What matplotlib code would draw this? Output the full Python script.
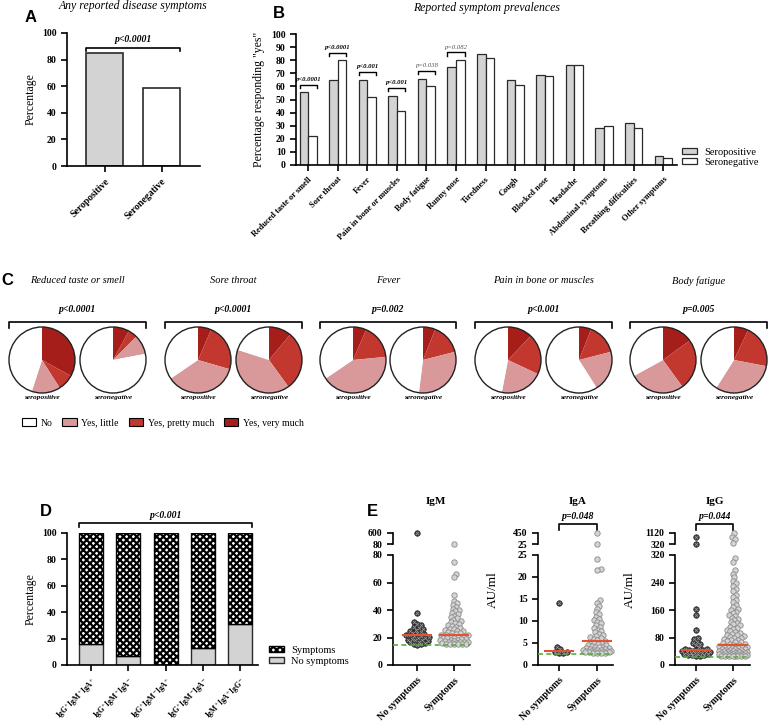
import matplotlib
matplotlib.use("Agg")
import matplotlib.pyplot as plt
import numpy as np
from matplotlib.patches import Patch, Circle

plt.rcParams['font.family'] = ['Liberation Serif', 'DejaVu Serif']
plt.rcParams['mathtext.fontset'] = 'stix'
plt.rcParams['hatch.linewidth'] = 1.6

# ---------------- data ----------------
any_groups = ["Seropositive", "Seronegative"]
any_vals = [85, 59]

symptoms = ["Reduced taste or smell", "Sore throat", "Fever", "Pain in bone or muscles",
            "Body fatigue", "Runny nose", "Tiredness", "Cough", "Blocked nose", "Headache",
            "Abdominal symptoms", "Breathing difficulties", "Other symptoms"]
sero_pos = [56, 65, 65, 53, 66, 75, 85, 65, 69, 76, 28, 32, 7]
sero_neg = [22, 80, 52, 41, 60, 80, 82, 61, 68, 76, 30, 28, 5]
b_pvals = ["p<0.0001", "p<0.0001", "p<0.001", "p<0.001", "p=0.038", "p=0.082"]
b_bracket = [61, 85.5, 71, 59, 72, 86]

pie_titles = ["Reduced taste or smell", "Sore throat", "Fever", "Pain in bone or muscles", "Body fatigue"]
pie_pvals = ["p<0.0001", "p<0.0001", "p=0.002", "p<0.001", "p=0.005"]
# order: pos/neg for each symptom
pie_very = [33, 8, 6.5, 11, 6.5, 6, 12, 6, 15, 7]
pie_pretty = [8, 4.5, 23, 29, 17, 15, 20, 15, 25, 21]
pie_little = [14, 9.5, 36, 40, 42, 31, 21, 20, 27, 31]
pie_no = [45, 78, 34.5, 20, 34.5, 48, 47, 59, 33, 41]
pie_levels = ["No", "Yes, little", "Yes, pretty much", "Yes, very much"]

ab_groups = [r"IgG$^{+}$IgM$^{+}$IgA$^{+}$", r"IgG$^{+}$IgM$^{+}$IgA$^{-}$",
             r"IgG$^{+}$IgM$^{-}$IgA$^{+}$", r"IgG$^{+}$IgM$^{-}$IgA$^{-}$",
             r"IgM$^{+}$IgA$^{+}$IgG$^{-}$"]
no_sympt_pct = [16, 7, 0, 13, 31]
sympt_pct = [84, 93, 100, 87, 69]

igm_no = [600, 38, 31, 29.5, 29, 28, 27, 26, 25.5, 25, 24, 23.5, 23, 22.5, 22, 21.5, 21, 21,
          20.5, 20, 19.5, 19, 18.5, 18, 18, 17.5, 17, 16.5, 16, 15.5, 15, 14.5]
igm_sym = [85, 75, 66.5, 64, 51, 46.5, 45, 44, 42.5, 41, 40, 39, 38, 37, 36, 35, 34, 33, 32, 31,
           30.5, 30, 29, 28.5, 28, 27, 26.5, 26, 25.5, 25, 24.5, 24, 23.5, 23, 22.5, 22, 22, 21.5,
           21, 21, 20.5, 20, 20, 19.5, 19, 19, 18.5, 18, 18, 17.5, 17.5, 17, 17, 16.5, 16.5, 16,
           16, 16, 15.5, 15.5, 15.5, 15, 15, 15]
iga_no = [14, 4.1, 3.6, 3.0, 2.9, 2.8, 2.8]
iga_sym = [450, 30, 24.2, 21.8, 21.6, 14.7, 14.2, 13.5, 12.8, 12, 11.5, 11, 10.5, 10.2, 9.8, 9.5,
           9, 8.7, 8.3, 8, 7.7, 7.4, 7.1, 6.8, 6.5, 6.3, 6.1, 5.9, 5.7, 5.5, 5.3, 5.1, 5, 4.8, 4.6,
           4.5, 4.3, 4.2, 4.1, 4, 3.9, 3.8, 3.7, 3.6, 3.5, 3.4, 3.3, 3.3, 3.2, 3.2, 3.1, 3.1, 3.0,
           3.0, 3.0, 2.9, 2.9, 2.9, 2.8, 2.8, 2.8, 2.8]
igg_no = [850, 350, 162, 145, 102, 80, 75, 68, 65, 62, 58, 52, 48, 46, 45, 44, 43, 42, 41, 40,
          39, 38, 37, 36, 35, 34, 33, 32, 31, 30, 29, 28, 27, 26]
igg_sym = [1100, 860, 660, 420, 310, 300, 276, 266, 255, 245, 238, 230, 222, 214, 205, 198, 190,
           183, 176, 170, 164, 160, 155, 150, 146, 142, 138, 134, 130, 126, 122, 118, 115, 112,
           108, 105, 102, 99, 96, 93, 90, 88, 86, 84, 82, 80, 78, 76, 74, 72, 70, 68, 66, 64, 62,
           60, 58, 57, 56, 55, 54, 53, 52, 51, 50, 49, 48, 47, 46, 45, 44, 43, 42, 41, 40, 40, 39,
           38, 38, 37, 36, 36, 35, 34, 34, 33, 32, 32, 31, 31, 30, 30, 29, 29, 28, 28, 27, 27, 26,
           26, 26, 25, 25, 25]
medians_no = [21.5, 3.2, 43]
medians_sym = [22, 5.5, 58]
cutoffs = [14.5, 2.6, 24]

# ---------------- layout helpers ----------------
W, H = 768, 722
fig = plt.figure(figsize=(W / 100, H / 100), dpi=100)


def rect(x0, y0, x1, y1):
    return [x0 / W, 1 - y1 / H, (x1 - x0) / W, (y1 - y0) / H]


def ftext(x, y, s, **kw):
    fig.text(x / W, 1 - y / H, s, **kw)


def fline(xs, ys, **kw):
    fig.add_artist(plt.Line2D([x / W for x in xs], [1 - y / H for y in ys], **kw))


def style(ax, lw=1.2):
    for s in ["top", "right"]:
        ax.spines[s].set_visible(False)
    for s in ["left", "bottom"]:
        ax.spines[s].set_linewidth(lw)
    ax.tick_params(width=lw, length=4, direction="out")


GRAY = "#d3d3d3"
EDGE = "#2a2a2a"
bold_tick = dict(fontweight="bold")

# ---------------- panel A ----------------
ax = fig.add_axes(rect(67, 33, 200, 166))
ax.bar(range(2), any_vals, width=0.65, color=[GRAY, "white"], edgecolor=EDGE, linewidth=1.2)
ax.set_xlim(-0.66, 1.675)
ax.set_ylim(0, 100)
style(ax)
ax.set_yticks(range(0, 101, 20))
ax.set_xticks(range(2))
ax.set_xticklabels(any_groups, rotation=45, ha="right", rotation_mode="anchor", fontsize=7, **bold_tick)
for t in ax.get_yticklabels():
    t.set_fontsize(7); t.set_fontweight("bold")
ax.set_ylabel("Percentage", fontsize=8.5)
ax.plot([-0.325, -0.325, 1.325, 1.325], [86.5, 89, 89, 86.5], color="k", lw=1.2, clip_on=False)
ax.text(0.5, 92, "p<0.0001", ha="center", va="bottom", fontsize=7, fontweight="bold", style="italic")
ftext(133, 6, "Any reported disease symptoms", ha="center", va="center", fontsize=8.5, style="italic")
ftext(31, 17, "A", ha="center", va="center", fontsize=12, fontweight="bold", family="Liberation Sans")

# ---------------- panel B ----------------
ax = fig.add_axes(rect(296, 34, 677, 165))
x = np.arange(len(symptoms))
ax.bar(x - 0.145, sero_pos, 0.29, color=GRAY, edgecolor=EDGE, linewidth=0.9, label="Seropositive")
ax.bar(x + 0.145, sero_neg, 0.29, color="white", edgecolor=EDGE, linewidth=0.9, label="Seronegative")
ax.set_xlim(-0.41, 12.47)
ax.set_ylim(0, 100)
style(ax)
ax.set_yticks(range(0, 101, 10))
ax.set_xticks(x)
ax.set_xticklabels(symptoms, rotation=45, ha="right", rotation_mode="anchor", fontsize=6, **bold_tick)
for t in ax.get_yticklabels():
    t.set_fontsize(7); t.set_fontweight("bold")
ax.set_ylabel('Percentage responding "yes"', fontsize=8.5)
for i, (p, yb) in enumerate(zip(b_pvals, b_bracket)):
    ax.plot([i - 0.29, i - 0.29, i + 0.29, i + 0.29], [yb - 2.5, yb, yb, yb - 2.5], color="k", lw=1)
    strong = i < 4
    ax.text(i, yb + 2, p, ha="center", va="bottom", fontsize=4.8, style="italic",
            fontweight="bold" if strong else "normal", color="k" if strong else "#555")
ax.legend(loc="center left", bbox_to_anchor=(1.0, 0.06), frameon=False, fontsize=7.5,
          handlelength=1.4, handleheight=0.6, labelspacing=0.1, borderpad=0, handletextpad=0.7)
ftext(487, 8, "Reported symptom prevalences", ha="center", va="center", fontsize=8.5, style="italic")
ftext(279, 13, "B", ha="center", va="center", fontsize=12, fontweight="bold", family="Liberation Sans")

# ---------------- panel C ----------------
pie_colors = ["#a61e19", "#c2382f", "#d9999a", "white"]
centers = [42, 113, 198, 269, 353, 423, 508, 579, 663, 734]
cy, r = 360, 33
for k, cx in enumerate(centers):
    pax = fig.add_axes(rect(cx - r - 1, cy - r - 1, cx + r + 1, cy + r + 1))
    vals = [pie_very[k], pie_pretty[k], pie_little[k], pie_no[k]]
    pax.pie(vals, colors=pie_colors, startangle=90, counterclock=False,
            wedgeprops=dict(linewidth=0))
    pax.add_patch(Circle((0, 0), 1, fill=False, ec="#222", lw=1))
    pax.set_xlim(-1.03, 1.03)
    pax.set_ylim(-1.03, 1.03)
    pax.set_aspect("equal")
    pax.axis("off")
    ftext(cx, 398, "seropositive" if k % 2 == 0 else "seronegative", ha="center", va="center",
          fontsize=5.3, fontweight="bold", style="italic")
for j in range(5):
    c1, c2 = centers[2 * j], centers[2 * j + 1]
    fline([c1 - r, c1 - r, c2 + r, c2 + r], [328, 322, 322, 328], color="k", lw=1.2)
    ftext((c1 + c2) / 2, 309, pie_pvals[j], ha="center", va="center", fontsize=7, fontweight="bold",
          style="italic")
    ftext((c1 + c2) / 2, 281, pie_titles[j], ha="center", va="center", fontsize=7.5, style="italic")
handles = [Patch(facecolor=c, edgecolor="k", linewidth=0.8) for c in pie_colors[::-1]]
fig.legend(handles, pie_levels, loc="center left", bbox_to_anchor=(17 / W, 1 - 423 / H), ncol=4,
           frameon=False, fontsize=7, handlelength=1.5, handleheight=0.9, handletextpad=0.45,
           columnspacing=1.0, borderpad=0)
ftext(7, 280, "C", ha="center", va="center", fontsize=12, fontweight="bold", family="Liberation Sans")

# ---------------- panel D ----------------
ax = fig.add_axes(rect(67, 533, 258, 665))
xd = np.arange(len(ab_groups))
ax.bar(xd, no_sympt_pct, 0.64, color=GRAY, edgecolor=EDGE, linewidth=1, label="No symptoms")
ax.bar(xd, sympt_pct, 0.64, bottom=no_sympt_pct, color="white", edgecolor="k", hatch="xxxxx",
       linewidth=1, label="Symptoms")
ax.set_xlim(-0.645, 4.48)
ax.set_ylim(0, 100)
style(ax)
ax.set_yticks(range(0, 101, 20))
ax.set_xticks(xd)
ax.set_xticklabels(ab_groups, rotation=45, ha="right", rotation_mode="anchor", fontsize=5.5, **bold_tick)
for t in ax.get_yticklabels():
    t.set_fontsize(7); t.set_fontweight("bold")
ax.set_ylabel("Percentage", fontsize=8.5)
ax.plot([-0.32, -0.32, 4.32, 4.32], [104.5, 107.5, 107.5, 104.5], color="k", lw=1.2, clip_on=False)
ax.text(2, 110, "p<0.001", ha="center", va="bottom", fontsize=7, fontweight="bold", style="italic")
h, l = ax.get_legend_handles_labels()
ax.legend(h[::-1], l[::-1], loc="center left", bbox_to_anchor=(1.03, 0.07), frameon=False,
          fontsize=7.5, handlelength=1.4, handleheight=0.6, labelspacing=0.2, borderpad=0,
          handletextpad=0.7)
ftext(46, 512, "D", ha="center", va="center", fontsize=12, fontweight="bold", family="Liberation Sans")


# ---------------- panel E ----------------
def swarm(vals, px_per_y, d, max_w):
    # simple beeswarm in pixel space, spread capped at +-max_w
    y = np.asarray(vals, float) * px_per_y
    xs = np.zeros(len(y))
    px, py = [], []
    steps = [0.0]
    for k in range(1, int(max_w / 0.5) + 1):
        steps += [k * 0.5, -k * 0.5]
    for i in np.argsort(y):
        best, best_gap = 0.0, -1
        for s in steps:
            gap = min([(s - a) ** 2 + (y[i] - b) ** 2 for a, b in zip(px, py)] or [1e9])
            if gap >= d * d:
                best = s
                break
            if gap > best_gap + 0.5:
                best, best_gap = s, gap
        xs[i] = best
        px.append(best); py.append(y[i])
    return xs


e_names = ["IgM", "IgA", "IgG"]
e_data = [(igm_no, igm_sym), (iga_no, iga_sym), (igg_no, igg_sym)]
e_x = [(393, 470, 417, 454), (538, 613, 559, 597), (675, 750, 696, 733)]
e_low = [(80, [0, 20, 40, 60, 80]), (25, [0, 5, 10, 15, 20, 25]), (320, [0, 80, 160, 240, 320])]
e_high = [600, 450, 1120]
e_p = [None, "p=0.048", "p=0.044"]
d_px = 3.6

for g in range(3):
    x0, x1, c0, c1 = e_x[g]
    unit = c1 - c0
    xl = (-(c0 - x0) / unit, 1 + (x1 - c1) / unit)
    top, ticks = e_low[g]
    lo = fig.add_axes(rect(x0, 555, x1, 665))
    up = fig.add_axes(rect(x0, 533, x1, 544))
    for a in (lo, up):
        a.set_xlim(*xl)
        style(a)
        a.patch.set_alpha(0)
    lo.set_ylim(0, top)
    up.set_ylim(top, e_high[g])
    up.spines["bottom"].set_visible(False)
    up.set_xticks([])
    up.set_yticks([top, e_high[g]])
    lo.set_yticks(ticks)
    for a in (lo, up):
        for t in a.get_yticklabels():
            t.set_fontsize(7); t.set_fontweight("bold")
    lo.set_xticks([0, 1])
    lo.set_xticklabels(["No symptoms", "Symptoms"], rotation=45, ha="right", rotation_mode="anchor",
                       fontsize=7, **bold_tick)
    for i, vals in enumerate(e_data[g]):
        vals = np.asarray(vals, float)
        low_v = vals[vals <= top]
        high_v = vals[vals > top]
        off_lo = swarm(low_v, 110 / top, d_px, 14) / unit
        off_hi = swarm(high_v, 11 / (e_high[g] - top), d_px, 6) / unit
        if i == 0:
            kw = dict(s=15, facecolor="#454545", edgecolor="#1a1a1a", linewidth=0.6, zorder=3)
        else:
            kw = dict(s=15, facecolor="#d4d4d4", edgecolor="#8a8a8a", linewidth=0.6, zorder=3)
        lo.scatter(i + off_lo, low_v, clip_on=False, **kw)
        up.scatter(i + off_hi, high_v, clip_on=False, **kw)
        if i == 0:
            lo.scatter(i + off_lo, low_v, s=7, marker="x", color="#9a9a9a", linewidth=0.5, zorder=4,
                       clip_on=False)
            up.scatter(i + off_hi, high_v, s=7, marker="x", color="#9a9a9a", linewidth=0.5, zorder=4,
                       clip_on=False)
    lo.hlines([medians_no[g], medians_sym[g]], [-0.4, 0.6], [0.4, 1.4], color="#e4532f", lw=1.5,
              zorder=5)
    lo.axhline(cutoffs[g], color="#59ad3c", lw=1.2, ls=(0, (3, 2)), zorder=6)
    ftext((c0 + c1) / 2, 502, e_names[g], ha="center", va="center", fontsize=8, fontweight="bold")
    if e_p[g]:
        up.plot([0, 0, 1, 1], [1.27, 1.82, 1.82, 1.27], color="k", lw=1.2, clip_on=False,
                transform=up.get_xaxis_transform())
        up.text(0.5, 2.5, e_p[g], ha="center", va="center", fontsize=7, fontweight="bold",
                style="italic", transform=up.get_xaxis_transform())
        ftext(x0 - 45, 590, "AU/ml", ha="center", va="center", rotation=90, fontsize=9.5)

ftext(372, 512, "E", ha="center", va="center", fontsize=12, fontweight="bold", family="Liberation Sans")

fig.savefig("out.png", dpi=100, facecolor="white")
